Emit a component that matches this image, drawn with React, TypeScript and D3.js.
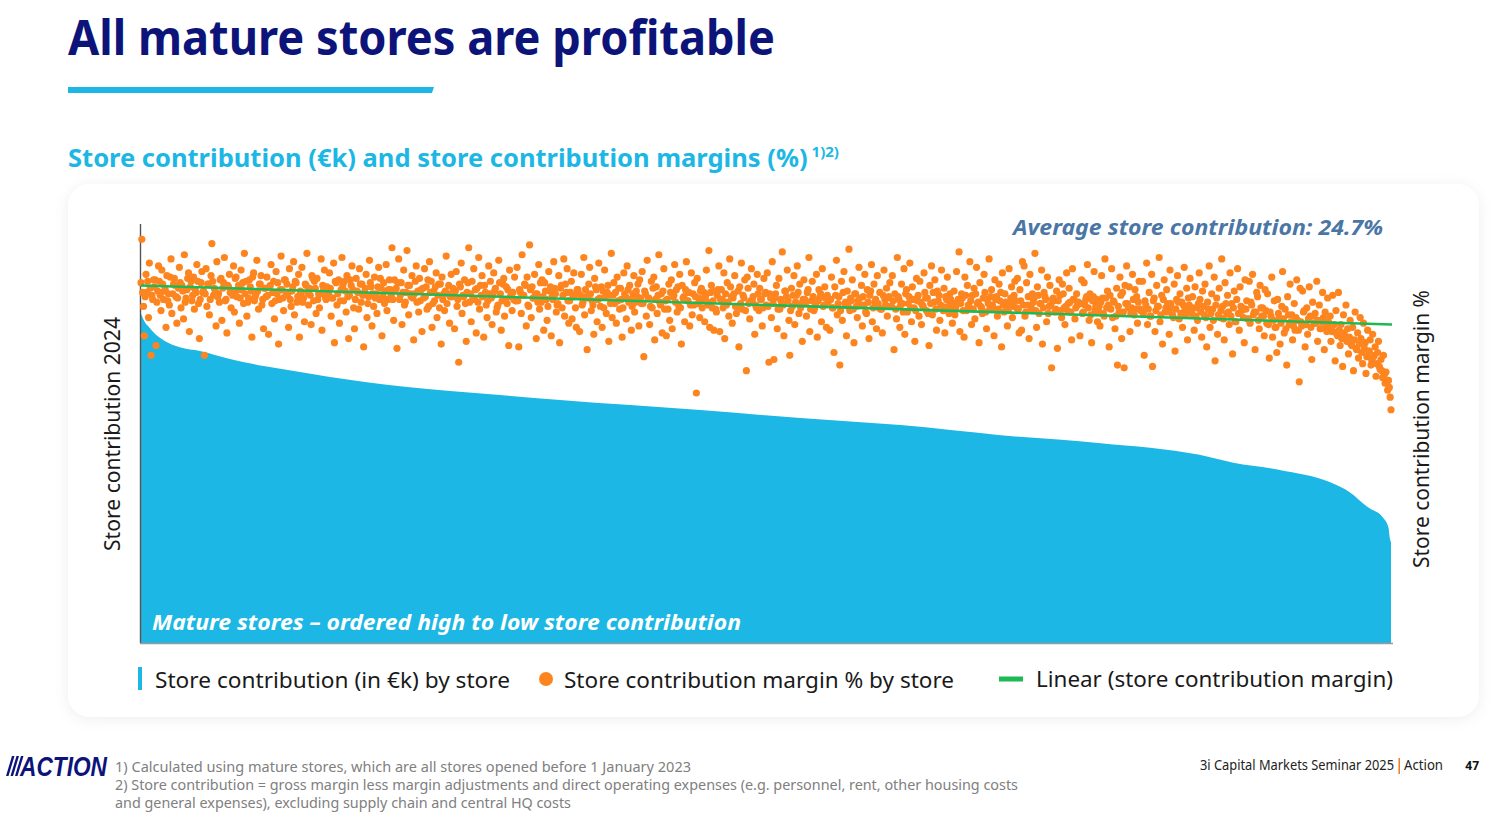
import React, { useLayoutEffect, useRef, useState } from "react";
import * as d3 from "d3";

// Store contribution margin % by store, stores ordered high to low store contribution
const marginsA = [
  25.8, 28.9, 25.1, 24.1, 22.0, 24.8, 26.4, 25.1, 25.9, 23.3, 27.2, 25.4, 20.6, 24.9, 24.6, 26.0, 25.5, 26.0, 21.3, 24.4, 25.2, 27.0, 25.9, 24.9, 23.8, 26.7, 25.7, 24.6, 25.2, 25.3, 22.6, 26.3, 24.5, 25.0, 24.2, 26.2, 27.5, 23.6, 25.0, 25.7, 26.1, 25.6, 24.8, 22.9, 24.7, 25.4, 26.9, 25.8, 24.0, 25.6, 25.2, 23.2, 27.8, 24.4, 24.7, 25.3, 26.1, 26.5, 22.3, 25.5, 25.9, 24.5, 24.9, 26.2, 23.9, 25.3, 25.1, 27.1, 25.9, 24.3, 21.8, 24.6, 25.8, 26.6, 25.1,
  25.2, 20.6, 25.0, 26.8, 24.1, 25.7, 25.7, 23.5, 24.6, 26.3, 28.6, 25.9, 24.9, 25.4, 25.2, 22.7, 27.3, 24.8, 25.0, 24.4, 26.0, 26.1, 23.1, 25.4, 25.8, 27.6, 24.5, 24.6, 22.2, 25.6, 25.5, 26.4, 25.1, 24.0, 25.1, 24.9, 27.0, 23.7, 26.1, 26.2, 24.8, 25.3, 25.6, 22.9, 24.7, 26.7, 25.3, 25.8, 24.3, 27.9, 25.0, 25.9, 23.4, 24.4, 24.7, 26.0, 25.5, 25.2, 21.9, 26.2, 26.5, 24.5, 24.8, 25.0, 27.4, 25.2, 23.9, 25.7, 25.7, 26.3, 24.2, 24.6, 22.5, 25.4, 25.4,
  24.8, 26.2, 24.9, 22.1, 25.5, 25.6, 27.1, 24.3, 25.1, 25.9, 23.2, 24.5, 26.6, 25.0, 25.8, 21.4, 24.6, 25.3, 27.7, 25.3, 24.7, 23.8, 26.0, 26.0, 24.9, 25.7, 25.0, 22.6, 26.8, 24.6, 24.1, 25.2, 25.5, 27.3, 23.5, 25.9, 25.8, 24.4, 24.8, 26.4, 21.9, 25.2, 25.1, 26.9, 24.4, 24.7, 23.0, 25.7, 25.6, 27.9, 25.1, 24.2, 25.4, 24.9, 22.8, 26.3, 26.1, 24.5, 25.9, 25.4, 23.6, 26.1, 24.6, 25.0, 24.0, 25.0, 27.5, 22.4, 25.6, 25.3, 26.7, 24.8, 24.6, 25.5, 25.3,
  25.0, 26.5, 25.4, 23.4, 24.7, 24.7, 27.2, 21.5, 25.9, 25.8, 24.2, 25.0, 26.0, 22.9, 24.5, 25.3, 27.6, 25.6, 24.5, 25.9, 25.2, 23.7, 26.3, 24.8, 21.8, 24.9, 26.0, 25.6, 27.0, 25.3, 24.0, 22.5, 24.6, 26.1, 25.2, 25.1, 23.9, 26.8, 25.7, 24.4, 25.7, 24.9, 21.2, 25.1, 25.4, 26.4, 23.3, 24.3, 24.8, 27.4, 25.8, 25.5, 22.7, 25.0, 24.1, 26.2, 24.7, 25.0, 23.6, 25.5, 26.9, 24.6, 26.1, 25.4, 22.0, 24.8, 25.8, 24.3, 25.2, 27.1, 23.8, 24.6, 25.3, 26.0, 25.3,
];
const marginsB = [
  24.9, 28.3, 24.6, 23.1, 26.0, 25.3, 25.4, 21.1, 25.8, 27.5, 24.6, 24.9, 25.8, 22.8, 25.1, 26.7, 24.2, 24.4, 25.1, 28.1, 25.6, 23.5, 25.6, 25.0, 24.8, 26.3, 24.7, 21.7, 25.0, 25.9, 27.0, 24.4, 25.2, 23.7, 26.1, 24.5, 25.3, 22.3, 25.4, 24.7, 26.8, 24.8, 25.5, 23.9, 26.0, 24.1, 27.3, 25.1, 25.9, 22.6, 24.3, 25.2, 24.5, 25.5, 26.5, 23.3, 24.9, 25.7, 24.0, 25.7, 21.4, 26.2, 24.6, 25.0, 23.8, 25.2, 27.7, 24.3, 25.0, 25.6, 22.9, 24.8, 26.4, 24.8, 25.4,
  25.3, 22.5, 25.2, 26.6, 24.1, 24.6, 20.1, 25.7, 25.5, 27.2, 23.6, 24.9, 24.8, 26.0, 24.3, 21.6, 25.1, 25.8, 28.3, 24.4, 25.0, 23.0, 25.9, 24.7, 26.8, 24.6, 25.3, 22.2, 25.4, 24.4, 27.6, 23.9, 25.6, 24.9, 26.3, 24.8, 21.9, 25.6, 25.1, 24.2, 23.3, 24.5, 27.0, 25.0, 25.9, 24.7, 22.8, 24.9, 26.5, 25.2, 25.4, 23.7, 24.0, 24.2, 27.4, 25.8, 25.0, 22.4, 24.5, 25.7, 26.1, 23.4, 24.6, 25.5, 24.3, 25.3, 21.3, 26.7, 24.8, 25.0, 23.8, 25.1, 24.6, 26.2, 24.5,
  24.5, 26.9, 24.5, 21.2, 25.3, 25.1, 23.6, 27.8, 24.9, 24.9, 25.7, 25.6, 22.7, 26.2, 24.2, 24.1, 28.5, 25.3, 23.3, 25.5, 24.7, 24.7, 26.4, 25.0, 21.8, 25.0, 24.4, 27.1, 23.9, 25.8, 24.4, 26.0, 24.8, 22.4, 25.8, 25.2, 24.6, 23.1, 24.1, 26.6, 25.2, 25.5, 22.0, 24.8, 24.6, 27.3, 25.4, 25.0, 23.7, 24.2, 24.3, 26.3, 21.5, 25.4, 25.6, 24.0, 24.9, 27.5, 23.4, 25.7, 25.1, 26.8, 24.5, 22.9, 24.5, 25.1, 25.9, 23.2, 24.8, 26.5, 24.9, 24.0, 22.6, 25.3, 25.3,
  25.0, 22.3, 24.9, 26.4, 24.2, 24.4, 27.6, 23.5, 25.3, 24.8, 21.0, 24.7, 25.7, 26.9, 25.0, 23.8, 24.5, 24.2, 22.1, 26.1, 25.5, 25.3, 23.0, 24.6, 27.2, 24.7, 24.1, 25.5, 22.6, 25.2, 24.0, 26.7, 24.8, 23.6, 25.1, 25.6, 21.6, 24.9, 24.3, 27.9, 23.3, 24.9, 25.8, 24.3, 25.1, 22.9, 26.2, 24.5, 25.4, 23.9, 25.4, 24.6, 21.9, 24.0, 26.5, 25.0, 24.8, 23.2, 27.0, 25.3, 24.4, 25.6, 24.6, 22.4, 24.1, 25.0, 26.3, 23.7, 24.4, 25.2, 24.8, 25.7, 22.7, 26.0, 24.7,
];
const marginsC = [
  24.3, 26.6, 24.3, 20.5, 25.2, 25.0, 23.4, 27.4, 24.7, 24.7, 22.8, 24.1, 25.9, 24.0, 25.4, 26.2, 21.7, 24.6, 25.5, 23.6, 24.9, 27.8, 24.4, 24.2, 25.0, 22.2, 25.2, 26.8, 23.9, 24.5, 22.0, 24.6, 23.9, 25.7, 23.1, 25.1, 26.0, 22.5, 24.8, 24.9, 27.1, 24.4, 25.3, 23.7, 25.5, 24.1, 26.4, 24.0, 21.4, 25.6, 24.7, 24.8, 23.0, 25.3, 27.3, 24.5, 24.5, 25.1, 22.7, 24.2, 26.5, 23.5, 25.0, 24.2, 25.8, 24.8, 17.9, 26.1, 24.3, 24.7, 23.3, 25.2, 25.4, 24.0, 24.6,
  25.1, 23.0, 24.8, 26.7, 24.4, 24.2, 28.1, 22.6, 25.1, 25.6, 24.0, 24.5, 22.4, 25.2, 23.9, 23.7, 24.9, 25.3, 27.0, 22.3, 24.6, 25.3, 24.6, 24.0, 26.5, 21.8, 25.0, 24.2, 25.8, 24.4, 23.4, 27.5, 25.5, 24.8, 22.9, 24.7, 25.0, 26.3, 24.1, 23.6, 24.1, 25.2, 21.2, 25.5, 24.3, 27.2, 23.9, 24.9, 24.7, 26.0, 23.8, 19.5, 26.2, 25.4, 24.3, 23.2, 24.5, 26.8, 24.5, 24.8, 25.7, 22.1, 24.2, 24.0, 26.4, 25.0, 23.8, 25.4, 24.6, 24.6, 22.7, 24.0, 26.1, 25.0, 25.1,
  24.2, 26.5, 24.1, 20.1, 25.0, 24.7, 23.3, 27.3, 24.3, 20.3, 24.7, 25.0, 25.6, 22.5, 23.9, 26.1, 23.9, 24.6, 24.4, 28.0, 24.2, 22.0, 25.2, 25.2, 24.8, 26.7, 24.5, 23.1, 20.6, 23.8, 25.4, 24.1, 24.9, 26.3, 22.8, 24.4, 24.9, 27.0, 25.1, 23.6, 25.7, 24.0, 24.3, 21.6, 24.6, 26.0, 24.6, 24.3, 23.4, 25.1, 25.3, 27.6, 22.3, 23.9, 24.5, 25.9, 24.8, 23.8, 24.0, 24.2, 26.4, 21.9, 24.5, 25.3, 24.7, 25.0, 23.0, 26.8, 24.1, 24.2, 25.5, 24.7, 22.6, 24.9, 24.4,
  24.6, 22.4, 24.6, 26.2, 24.0, 24.0, 20.8, 25.5, 24.9, 27.4, 23.5, 24.3, 24.8, 19.9, 23.8, 25.9, 23.1, 25.1, 26.6, 24.3, 24.4, 22.0, 25.2, 24.1, 28.2, 23.8, 24.7, 24.5, 26.0, 23.9, 21.5, 25.0, 25.0, 24.1, 23.3, 24.5, 26.9, 24.7, 24.2, 25.6, 22.7, 24.8, 24.2, 26.4, 23.7, 23.6, 25.3, 24.4, 21.8, 24.9, 25.2, 27.1, 23.0, 24.0, 25.7, 24.4, 24.6, 22.5, 26.3, 24.3, 24.0, 25.1, 23.9, 23.9, 22.2, 24.9, 26.7, 24.6, 24.2, 25.4, 23.4, 24.7, 24.8, 25.8, 24.1,
];
const marginsD = [
  24.1, 26.3, 24.5, 21.0, 25.0, 23.9, 23.2, 27.6, 24.8, 24.6, 22.6, 24.2, 25.7, 24.3, 23.7, 26.8, 22.1, 25.0, 25.3, 23.7, 24.3, 24.8, 27.2, 24.0, 23.0, 25.5, 24.6, 24.0, 21.6, 23.8, 26.1, 24.5, 24.9, 23.4, 25.9, 24.4, 22.8, 24.2, 24.1, 26.5, 25.1, 24.7, 23.8, 24.7, 23.6, 21.3, 25.6, 24.3, 27.0, 23.5, 25.1, 24.4, 26.0, 23.9, 22.4, 25.2, 24.5, 24.9, 23.1, 24.2, 26.7, 24.1, 23.8, 25.4, 22.2, 24.8, 24.6, 26.2, 24.1, 23.6, 25.0, 24.6, 24.3, 22.9, 24.0,
  25.2, 23.5, 24.0, 26.6, 24.4, 24.6, 28.0, 22.3, 24.3, 25.0, 24.7, 23.8, 21.9, 26.2, 24.9, 23.8, 25.6, 24.2, 24.1, 27.3, 24.5, 22.8, 24.9, 23.9, 25.4, 23.2, 25.0, 26.9, 24.3, 24.4, 21.5, 25.8, 24.1, 24.0, 23.6, 24.7, 26.4, 25.1, 23.7, 22.5, 24.6, 24.3, 27.5, 23.9, 24.8, 25.3, 24.2, 24.0, 22.0, 26.0, 24.6, 24.8, 23.4, 23.9, 25.7, 24.5, 25.1, 21.2, 26.5, 24.2, 23.7, 25.0, 24.4, 24.1, 22.7, 23.8, 26.8, 24.4, 24.7, 25.5, 23.3, 24.1, 24.9, 25.9, 24.5,
  24.0, 26.1, 23.9, 22.2, 25.3, 24.5, 22.4, 27.3, 24.2, 27.0, 23.4, 23.7, 25.8, 24.2, 24.8, 21.8, 26.4, 24.1, 23.9, 25.0, 24.4, 24.7, 27.9, 23.8, 22.6, 25.5, 24.9, 23.6, 24.3, 24.3, 26.7, 21.4, 24.0, 25.1, 24.8, 24.6, 23.0, 26.2, 23.6, 24.1, 25.6, 24.2, 19.7, 24.6, 24.7, 24.5, 23.7, 23.9, 25.2, 21.1, 24.5, 26.0, 24.9, 23.8, 23.3, 25.7, 25.0, 24.0, 22.8, 24.1, 26.5, 23.8, 24.3, 25.4, 24.4, 23.7, 21.7, 26.8, 24.6, 24.6, 23.2, 24.0, 25.0, 24.2, 24.4,
  24.3, 22.0, 24.3, 26.0, 23.6, 23.7, 25.8, 24.2, 24.6, 24.8, 27.1, 24.0, 23.1, 25.0, 23.5, 21.5, 24.5, 24.8, 26.6, 23.8, 24.1, 24.6, 23.0, 23.8, 24.1, 22.7, 24.4, 26.3, 24.7, 23.6, 23.4, 27.5, 24.7, 24.0, 25.2, 24.2, 21.2, 24.9, 23.9, 26.8, 23.3, 24.5, 24.4, 22.5, 23.4, 25.4, 19.9, 24.1, 23.7, 26.2, 24.9, 21.8, 25.1, 23.7, 19.7, 25.6, 24.3, 27.0, 24.3, 24.0, 25.5, 22.3, 23.6, 24.0, 26.4, 24.6, 23.5, 25.3, 23.9, 24.8, 22.9, 24.4, 25.9, 23.9, 23.8,
];
const marginsE = [
  23.8, 25.9, 23.6, 20.6, 24.5, 24.2, 27.2, 22.8, 23.9, 25.1, 23.4, 23.4, 26.4, 19.8, 24.5, 24.7, 22.3, 23.8, 25.6, 24.1, 24.1, 27.6, 23.0, 23.5, 24.9, 21.4, 24.6, 26.0, 23.7, 24.0, 25.3, 24.3, 23.7, 22.1, 26.7, 24.3, 24.0, 23.5, 23.3, 25.7, 20.9, 23.9, 24.6, 26.3, 24.4, 23.2, 25.0, 23.6, 24.4, 22.6, 24.2, 26.9, 23.9, 23.5, 25.4, 21.7, 24.7, 24.2, 26.1, 23.8, 23.6, 24.8, 24.0, 22.4, 25.5, 23.4, 24.0, 23.1, 24.3, 26.5, 24.6, 23.7, 21.9, 25.2, 24.1,
  23.5, 25.7, 23.3, 21.2, 24.4, 23.9, 27.0, 22.6, 23.6, 25.0, 23.9, 23.1, 26.2, 20.2, 24.2, 24.7, 22.1, 23.5, 25.4, 23.3, 23.8, 27.5, 24.1, 23.2, 21.7, 25.8, 24.3, 23.6, 24.9, 23.7, 22.8, 26.5, 23.4, 24.3, 20.7, 24.0, 25.2, 23.0, 23.0, 24.6, 26.8, 23.6, 22.4, 25.5, 24.1, 23.8, 24.0, 23.3, 21.5, 26.0, 23.9, 24.5, 23.2, 23.2, 25.9, 22.9, 24.4, 24.2, 26.4, 23.5, 23.7, 21.0, 23.7, 25.1, 24.8, 23.1, 22.5, 25.6, 24.0, 23.4, 24.0, 23.4, 22.0, 25.3, 23.8,
  22.9, 25.0, 22.8, 20.4, 23.7, 23.4, 26.2, 21.9, 23.1, 24.5, 22.6, 22.6, 20.8, 24.6, 23.6, 23.3, 21.4, 22.9, 24.1, 26.6, 23.2, 22.2, 23.9, 22.5, 19.9, 24.8, 23.5, 22.8, 25.7, 23.0, 23.5, 21.7, 22.7, 24.3, 22.4, 23.3, 26.0, 23.1, 22.4, 18.7, 25.4, 23.0, 22.7, 25.2, 23.7, 23.8, 21.2, 22.8, 24.0, 22.1, 23.2, 25.5, 23.4, 22.6, 20.3, 24.4, 23.4, 22.9, 23.6, 22.9, 25.9, 21.6, 23.1, 24.2, 22.5, 22.5, 23.0, 25.1, 23.3, 21.0, 23.7, 22.7, 22.3, 24.7, 23.0,
  22.6, 23.4, 21.6, 22.3, 24.9, 22.3, 22.8, 20.2, 23.8, 22.1, 22.0, 25.1, 22.4, 21.3, 22.8, 21.8, 19.8, 23.5, 22.2, 21.9, 24.2, 21.6, 22.5, 20.7, 21.9, 23.1, 21.4, 21.3, 22.6, 19.5, 21.7, 23.7, 21.1, 21.0, 22.2, 20.4, 21.4, 23.3, 21.8, 20.8, 20.0, 22.9, 21.1, 21.5, 19.3, 20.5, 22.4, 20.9, 20.9, 21.7, 19.9, 20.2, 22.1, 20.5, 20.6, 21.2, 19.1, 20.0, 20.8, 21.6, 19.8, 19.6, 20.3, 19.5, 19.0, 20.6, 19.2, 18.6, 19.4, 18.6, 18.1, 18.8, 18.3, 17.6, 16.7,
];

// Store contribution 2024 read at points along the ordered curve (store rank out of 1000, value)
const contributionRank = [0, 3, 7, 13, 19, 31, 47, 71, 98, 127, 151, 207, 287, 335, 447, 527, 607, 687, 767, 846, 873, 910, 950, 966, 980, 993, 997, 998, 999];
const contributionValue = [786, 766, 752, 733, 721, 706, 697, 678, 661, 647, 635, 613, 592, 580, 556, 537, 520, 496, 477, 449, 430, 413, 384, 360, 325, 298, 275, 251, 240];

// Linear trend of store contribution margin (first store, last store)
const trendMargin = [25.6, 22.8];

const legendLabels = [
  "Store contribution (in €k) by store",
  "Store contribution margin % by store",
  "Linear (store contribution margin)",
];

const footnotes = [
  "1) Calculated using mature stores, which are all stores opened before 1 January 2023",
  "2) Store contribution = gross margin less margin adjustments and direct operating expenses (e.g. personnel, rent, other housing costs",
  "and general expenses), excluding supply chain and central HQ costs",
];

const BLUE = "#1cb7e4";
const ORANGE = "#fd8520";
const GREEN = "#1db954";
const NAVY = "#0c1479";
const FONT = "'Noto Sans', 'Open Sans', sans-serif";

export default function App() {
  const subRef = useRef<SVGTextElement>(null);
  const [subSize, setSubSize] = useState(26);
  const [subEnd, setSubEnd] = useState(810);

  useLayoutEffect(() => {
    const el = subRef.current;
    if (!el) return;
    const w = el.getComputedTextLength();
    if (w > 0 && Math.abs(w - 740) > 2) {
      setSubSize((s) => (s * 740) / w);
    } else if (w > 0) {
      setSubEnd(68 + w);
    }
  }, [subSize]);

  const margins = [...marginsA, ...marginsB, ...marginsC, ...marginsD, ...marginsE];
  const n = margins.length;
  const storeMax = 999;

  const left = 141;
  const right = 1391;
  const top = 224;
  const bottom = 643;

  const x = d3.scaleLinear().domain([0, storeMax]).range([left, right]);
  const yC = d3.scaleLinear().domain([0, 1000]).range([bottom, top]);
  const yM = d3.scaleLinear().domain([0, 30]).range([bottom, top]);

  const areaData: [number, number][] = contributionRank.map((r, i) => [r, contributionValue[i]]);
  const area = d3
    .area<[number, number]>()
    .x((d) => x(d[0]))
    .y0(bottom)
    .y1((d) => yC(d[1]))
    .curve(d3.curveMonotoneX);

  const dotX = (i: number) => x((i * storeMax) / (n - 1));

  return (
    <svg
      width={1506}
      height={815}
      viewBox="0 0 1506 815"
      style={{ position: "absolute", left: 0, top: 0, background: "#fff" }}
    >
      <defs>
        <filter id="shadow" x="-5%" y="-5%" width="110%" height="115%">
          <feDropShadow dx="0" dy="2" stdDeviation="7" floodColor="#000" floodOpacity="0.07" />
        </filter>
      </defs>

      {/* Title */}
      <text x={68} y={55} fontFamily={FONT} fontWeight={700} fontSize={49} fill={NAVY} textLength={707} lengthAdjust="spacingAndGlyphs">
        All mature stores are profitable
      </text>
      <path d="M68,87 L434,87 L432,93 L68,93 Z" fill={BLUE} />

      {/* Subtitle */}
      <text ref={subRef} x={68} y={167} fontFamily={FONT} fontWeight={700} fontSize={subSize} fill={BLUE}>
        Store contribution (€k) and store contribution margins (%)
      </text>
      <text x={subEnd + 4} y={157} fontFamily={FONT} fontWeight={700} fontSize={15} fill={BLUE}>
        1)2)
      </text>

      {/* Panel */}
      <rect x={68} y={184} width={1411} height={533} rx={22} fill="#fff" filter="url(#shadow)" />

      {/* Store contribution area */}
      <path d={area(areaData) || ""} fill={BLUE} />

      {/* Axes */}
      <line x1={140.5} x2={140.5} y1={224} y2={bottom} stroke="#555" strokeWidth={1.4} />
      <line x1={140} x2={1393} y1={bottom + 0.5} y2={bottom + 0.5} stroke="#9a9a9a" strokeWidth={1.6} />

      {/* Margin dots */}
      <g fill={ORANGE}>
        {margins.map((m, i) => (
          <circle key={i} cx={dotX(i)} cy={yM(m)} r={3.6} />
        ))}
      </g>

      {/* Trend line */}
      <line
        x1={x(0)}
        x2={x(storeMax) + 1}
        y1={yM(trendMargin[0])}
        y2={yM(trendMargin[1])}
        stroke={GREEN}
        strokeWidth={2.6}
      />

      {/* In-plot annotations */}
      <text x={1383} y={235} textAnchor="end" fontFamily={FONT} fontStyle="italic" fontWeight={700} fontSize={22} fill="#4a76a6" textLength={370} lengthAdjust="spacingAndGlyphs">
        Average store contribution: 24.7%
      </text>
      <text x={152} y={630} fontFamily={FONT} fontStyle="italic" fontWeight={700} fontSize={22} fill="#fff" textLength={589} lengthAdjust="spacingAndGlyphs">
        Mature stores – ordered high to low store contribution
      </text>

      {/* Axis titles */}
      <text transform="translate(120,434) rotate(-90)" textAnchor="middle" fontFamily={FONT} fontSize={21} fill="#1a1a1a" textLength={234} lengthAdjust="spacingAndGlyphs">
        Store contribution 2024
      </text>
      <text transform="translate(1429,429) rotate(-90)" textAnchor="middle" fontFamily={FONT} fontSize={21} fill="#1a1a1a" textLength={278} lengthAdjust="spacingAndGlyphs">
        Store contribution margin %
      </text>

      {/* Legend */}
      <rect x={138} y={667} width={4} height={23} fill={BLUE} />
      <text x={155} y={688} fontFamily={FONT} fontSize={22} fill="#1a1a1a" textLength={355} lengthAdjust="spacingAndGlyphs">
        {legendLabels[0]}
      </text>
      <circle cx={546} cy={679} r={7} fill={ORANGE} />
      <text x={564} y={688} fontFamily={FONT} fontSize={22} fill="#1a1a1a" textLength={390} lengthAdjust="spacingAndGlyphs">
        {legendLabels[1]}
      </text>
      <line x1={999} x2={1023} y1={679} y2={679} stroke={GREEN} strokeWidth={5} />
      <text x={1036} y={687} fontFamily={FONT} fontSize={22} fill="#1a1a1a" textLength={357} lengthAdjust="spacingAndGlyphs">
        {legendLabels[2]}
      </text>

      {/* Footer logo */}
      <g fill={NAVY}>
        <path d="M6,776 L8.5,776 L14.5,756 L12,756 Z" />
        <path d="M10.5,776 L13,776 L19,756 L16.5,756 Z" />
        <path d="M15,776 L17.5,776 L23.5,756 L21,756 Z" />
        <text x={20} y={776} fontFamily="'Liberation Sans', Arial, sans-serif" fontStyle="italic" fontWeight={900} fontSize={27} textLength={87} lengthAdjust="spacingAndGlyphs">
          ACTION
        </text>
      </g>

      {/* Footnotes */}
      {footnotes.map((f, i) => (
        <text key={i} x={115} y={772 + i * 18} fontFamily={FONT} fontSize={14} fill="#808080" textLength={[576, 903, 456][i]} lengthAdjust="spacingAndGlyphs">
          {f}
        </text>
      ))}

      <text x={1200} y={770} fontFamily={FONT} fontSize={13.5} fill="#222" textLength={194} lengthAdjust="spacingAndGlyphs">
        3i Capital Markets Seminar 2025
      </text>
      <rect x={1398.5} y={758} width={1.4} height={16} fill="#e8731a" />
      <text x={1404} y={770} fontFamily={FONT} fontSize={13.5} fill="#222" textLength={39} lengthAdjust="spacingAndGlyphs">
        Action
      </text>
      <text x={1479} y={770} textAnchor="end" fontFamily={FONT} fontWeight={700} fontSize={12} fill="#111">
        47
      </text>
    </svg>
  );
}
